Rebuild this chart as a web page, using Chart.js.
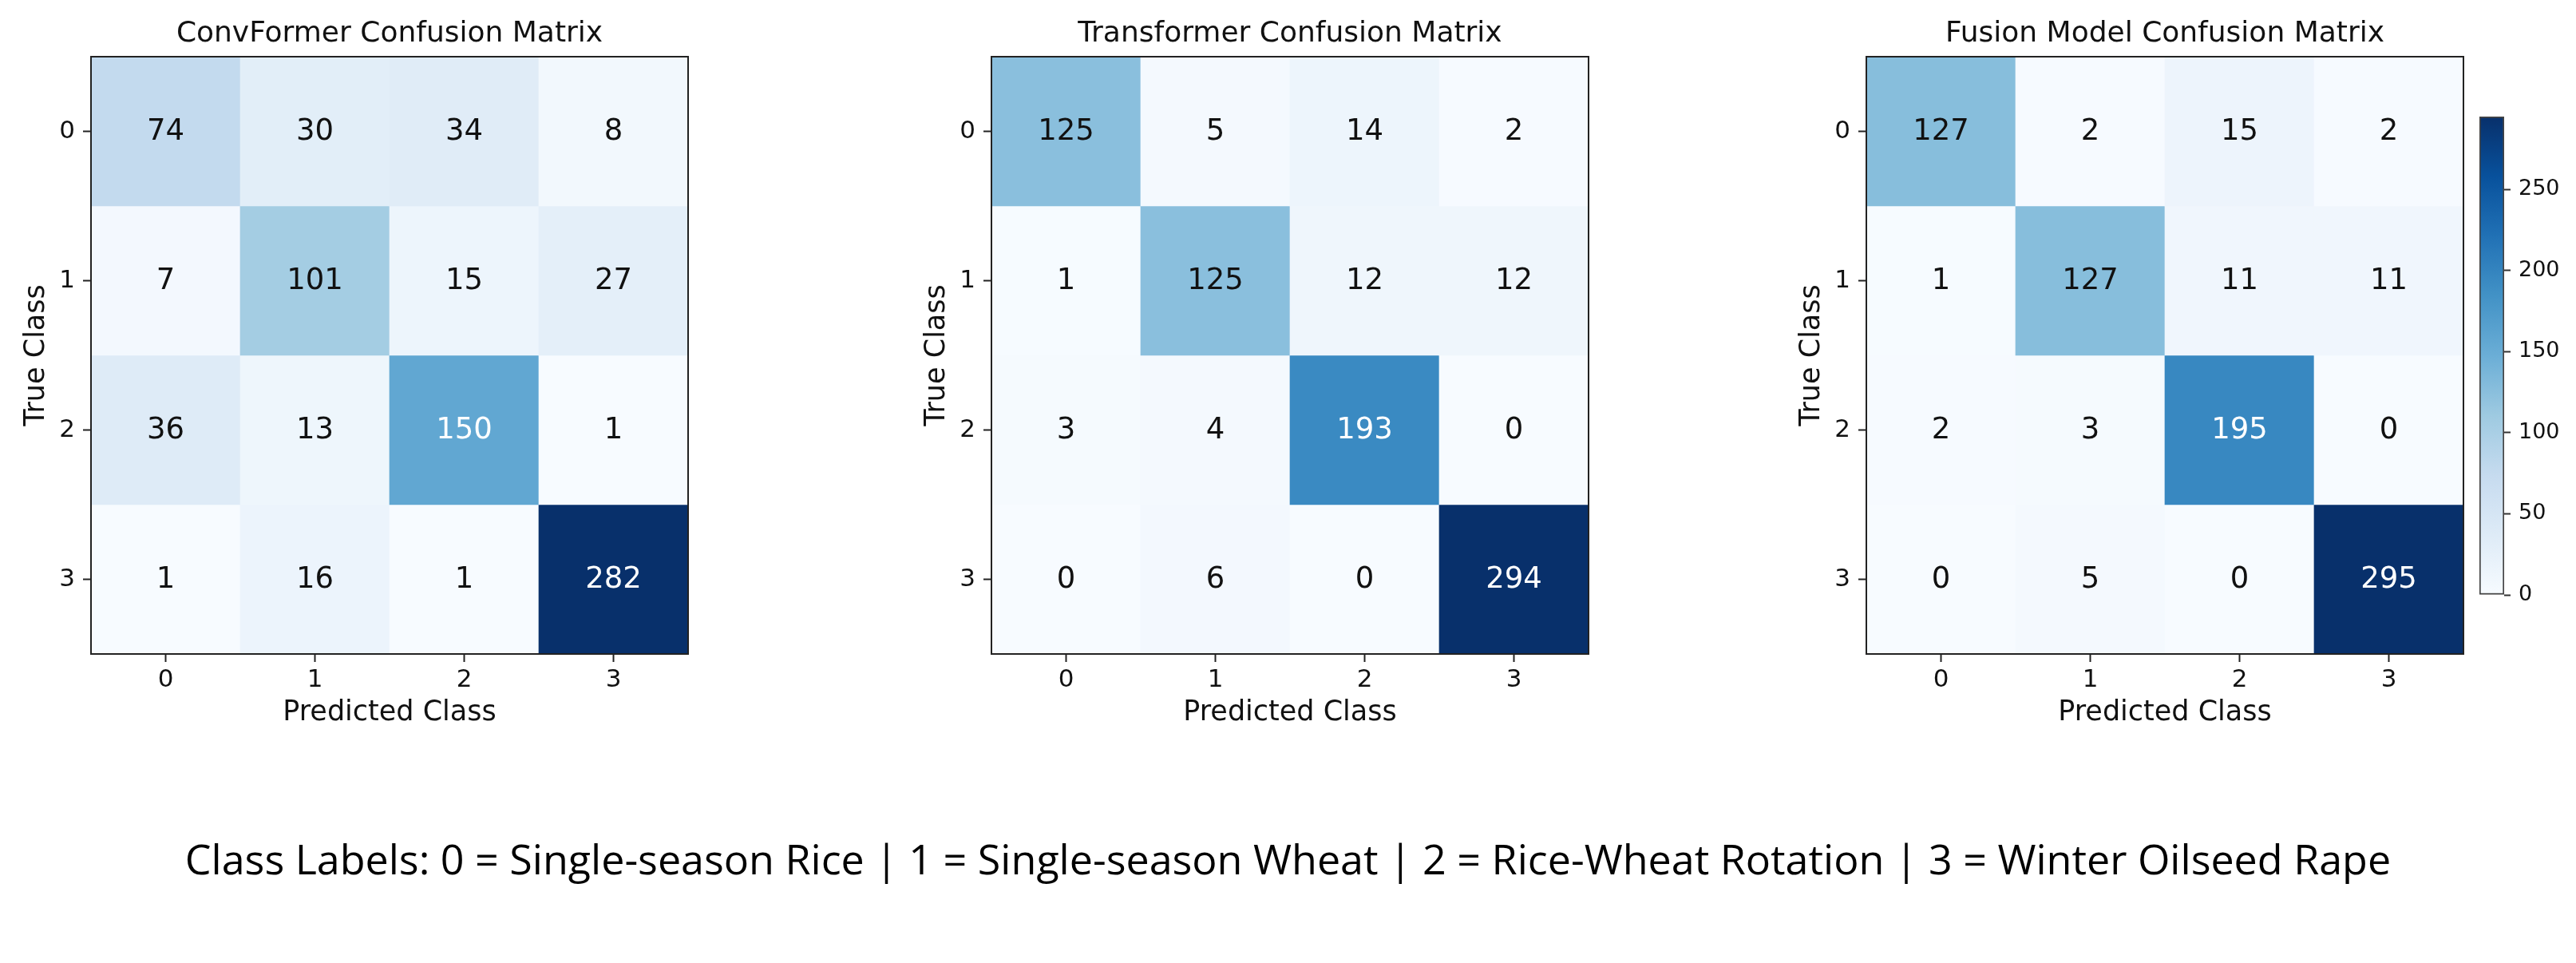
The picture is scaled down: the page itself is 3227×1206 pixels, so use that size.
<!DOCTYPE html>
<html>
<head>
<meta charset="utf-8">
<script src="https://cdn.jsdelivr.net/npm/chart.js@4.4.1/dist/chart.umd.min.js"></script>
<style>
  html, body { margin: 0; padding: 0; background: #fff; }
  #page { position: relative; width: 3227px; height: 1206px; overflow: hidden; background: #fff; }
  .box { position: absolute; top: 0; }
  #caption {
    position: absolute; left: 0; width: 3227px; top: 1040px;
    text-align: center; font-family: 'Open Sans', sans-serif; font-size: 52px;
    line-height: 70px; color: #000; white-space: nowrap;
  }
</style>
</head>
<body>
<div id="page">
  <canvas id="cm0" class="box" width="882" height="930" style="left:0px"></canvas>
  <canvas id="cm1" class="box" width="882" height="930" style="left:1128px"></canvas>
  <canvas id="cm2" class="box" width="882" height="930" style="left:2224px"></canvas>
  <canvas id="cbar" class="box" width="137" height="780" style="left:3090px"></canvas>
  <div id="caption">Class Labels: 0 = Single-season Rice | 1 = Single-season Wheat | 2 = Rice-Wheat Rotation | 3 = Winter Oilseed Rape</div>
</div>
<script>
// class indices used on both axes
const classes = ['0', '1', '2', '3'];

// confusion matrices, rows = true class, columns = predicted class
const convformer = [
  [74, 30, 34, 8],
  [7, 101, 15, 27],
  [36, 13, 150, 1],
  [1, 16, 1, 282]
];
const transformer = [
  [125, 5, 14, 2],
  [1, 125, 12, 12],
  [3, 4, 193, 0],
  [0, 6, 0, 294]
];
const fusion = [
  [127, 2, 15, 2],
  [1, 127, 11, 11],
  [2, 3, 195, 0],
  [0, 5, 0, 295]
];

const titles = ['ConvFormer Confusion Matrix', 'Transformer Confusion Matrix', 'Fusion Model Confusion Matrix'];
const colorbarTicks = [0, 50, 100, 150, 200, 250];

// matplotlib "Blues"
const blues = ['#f7fbff', '#deebf7', '#c6dbef', '#9ecae1', '#6baed6', '#4292c6', '#2171b5', '#08519c', '#08306b'];
const FONT = 'DejaVu Sans';

const hexToRgb = h => [1, 3, 5].map(i => parseInt(h.slice(i, i + 2), 16));

const bluesAt = t => {
  t = Math.min(1, Math.max(0, t));
  const pos = t * (blues.length - 1);
  const i = Math.min(Math.floor(pos), blues.length - 2);
  const f = pos - i;
  const a = hexToRgb(blues[i]);
  const b = hexToRgb(blues[i + 1]);
  const c = a.map((v, k) => Math.round(v + (b[k] - v) * f));
  return `rgb(${c[0]},${c[1]},${c[2]})`;
};

// writes the counts into the cells and draws the frame around the plot
const cellText = {
  id: 'cellText',
  afterDatasetsDraw(chart, args, opts) {
    const ctx = chart.ctx;
    const m = opts.matrix;
    const flat = m.flat();
    const thresh = (Math.max(...flat) + Math.min(...flat)) / 2;
    ctx.save();
    ctx.font = `37px "${FONT}"`;
    ctx.textAlign = 'center';
    ctx.textBaseline = 'middle';
    chart.data.datasets.forEach((ds, r) => {
      chart.getDatasetMeta(r).data.forEach((el, c) => {
        const v = m[r][c];
        ctx.fillStyle = v > thresh ? '#fff' : '#111';
        ctx.fillText(String(v), el.x, (el.y + el.base) / 2 + 1);
      });
    });
    const a = chart.chartArea;
    ctx.strokeStyle = '#222';
    ctx.lineWidth = 2;
    ctx.strokeRect(a.left, a.top, a.right - a.left, a.bottom - a.top);
    ctx.restore();
  }
};

const createMatrix = (elementId, title, matrix) => {
  const flat = matrix.flat();
  const vmin = Math.min(...flat);
  const vmax = Math.max(...flat);
  const datasets = matrix.map((row, r) => ({
    label: classes[r],
    data: row.map(() => [r - 0.5, r + 0.5]),
    backgroundColor: row.map(v => bluesAt((v - vmin) / (vmax - vmin))),
    borderWidth: 0,
    barPercentage: 1,
    categoryPercentage: 1,
    grouped: false
  }));

  new Chart(document.getElementById(elementId), {
    type: 'bar',
    data: { labels: classes, datasets: datasets },
    plugins: [cellText],
    options: {
      responsive: false,
      animation: false,
      devicePixelRatio: 1,
      layout: { padding: { left: 0, right: 20, top: 0, bottom: 11 } },
      plugins: {
        legend: { display: false },
        tooltip: { enabled: false },
        title: {
          display: true,
          text: title,
          fullSize: false,
          color: '#111',
          font: { family: FONT, size: 36, weight: 'normal' },
          padding: { top: 21.4, bottom: 6.4 }
        },
        cellText: { matrix: matrix }
      },
      scales: {
        x: {
          type: 'category',
          offset: true,
          afterFit: s => { s.height = 100; },
          ticks: { color: '#111', font: { family: FONT, size: 31 }, padding: 4 },
          grid: { offset: false, drawOnChartArea: false, tickLength: 10, tickWidth: 2, tickColor: '#222' },
          border: { display: false },
          title: {
            display: true, text: 'Predicted Class', color: '#111',
            font: { family: FONT, size: 35 }, padding: { top: 0, bottom: 5 }
          }
        },
        y: {
          type: 'linear',
          min: -0.5,
          max: 3.5,
          reverse: true,
          afterBuildTicks: s => { s.ticks = classes.map((c, i) => ({ value: i })); },
          afterFit: s => { s.width = 114; },
          ticks: { color: '#111', font: { family: FONT, size: 31 }, padding: 10, callback: v => classes[v] },
          grid: { drawOnChartArea: false, tickLength: 10, tickWidth: 2, tickColor: '#222' },
          border: { display: false },
          title: {
            display: true, text: 'True Class', color: '#111',
            font: { family: FONT, size: 35 }, padding: { top: 25, bottom: 0 }
          }
        }
      }
    }
  });
};

createMatrix('cm0', titles[0], convformer);
createMatrix('cm1', titles[1], transformer);
createMatrix('cm2', titles[2], fusion);

// colorbar for the fusion model panel
const cbMin = Math.min(...fusion.flat());
const cbMax = Math.max(...fusion.flat());

new Chart(document.getElementById('cbar'), {
  type: 'bar',
  data: {
    labels: [''],
    datasets: [{
      data: [[cbMin, cbMax]],
      backgroundColor: context => {
        const chart = context.chart;
        const y = chart.scales.y;
        if (!chart.chartArea || !y) return blues[0];
        const g = chart.ctx.createLinearGradient(0, y.getPixelForValue(cbMin), 0, y.getPixelForValue(cbMax));
        blues.forEach((c, i) => g.addColorStop(i / (blues.length - 1), c));
        return g;
      },
      borderColor: '#444',
      borderWidth: 2,
      borderSkipped: false,
      barPercentage: 1,
      categoryPercentage: 1
    }]
  },
  options: {
    responsive: false,
    animation: false,
    devicePixelRatio: 1,
    layout: { padding: { left: 16, right: 0, top: 146, bottom: 35 } },
    plugins: { legend: { display: false }, tooltip: { enabled: false } },
    scales: {
      x: { display: false },
      y: {
        position: 'right',
        min: cbMin,
        max: cbMax,
        afterBuildTicks: s => { s.ticks = colorbarTicks.map(v => ({ value: v })); },
        afterFit: s => { s.width = 90; },
        ticks: { color: '#111', font: { family: FONT, size: 27 }, padding: 10 },
        grid: { drawOnChartArea: false, tickLength: 8, tickWidth: 2, tickColor: '#333' },
        border: { display: false }
      }
    }
  }
});
</script>
</body>
</html>
